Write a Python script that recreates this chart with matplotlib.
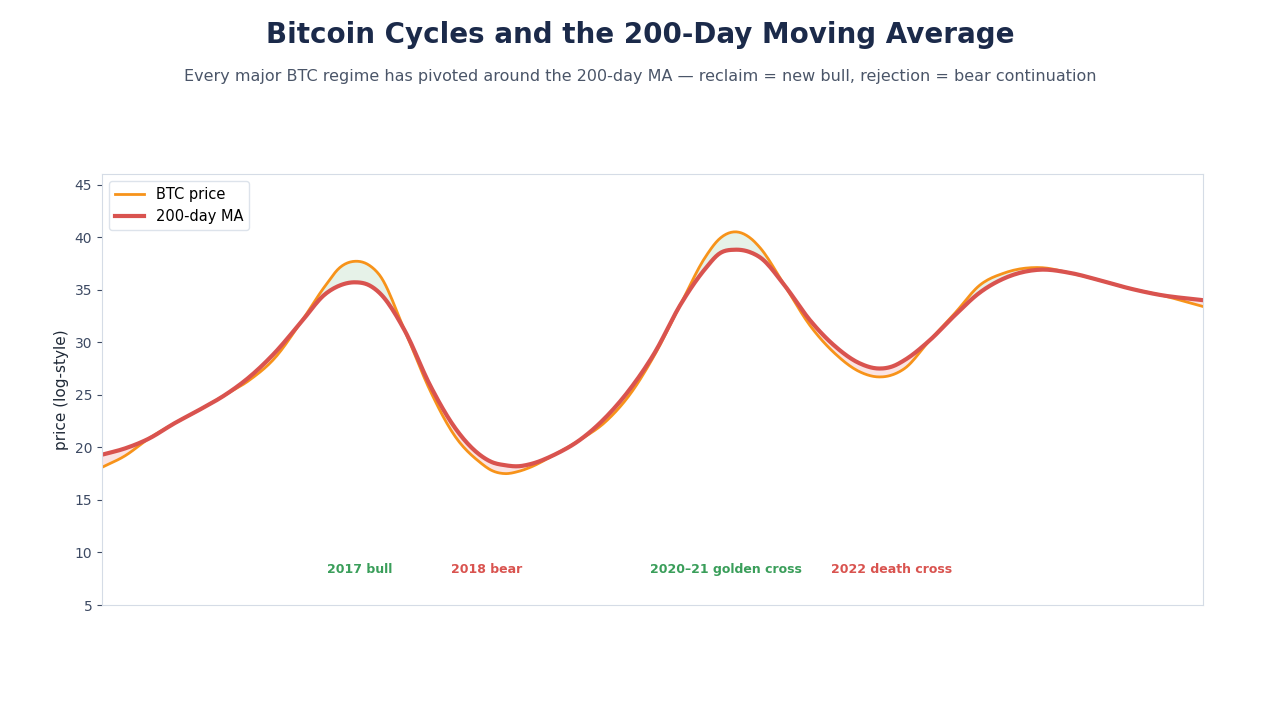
import numpy as np
import matplotlib
matplotlib.use("Agg")
import matplotlib.pyplot as plt

# time axis (arbitrary months, 0..100)
t = [0, 2.1, 4.2, 6.6, 8.9, 11.2, 13.4, 15.7, 18.0, 20.3, 21.6, 23.0, 24.3, 25.2,
     27.5, 29.8, 32.1, 34.3, 35.4, 36.6, 37.8, 38.9, 41.1, 43.4, 45.7, 48.0, 50.2,
     52.5, 54.8, 56.1, 57.5, 58.9, 59.8, 62.0, 64.3, 66.6, 68.8, 70.5, 71.8, 72.9,
     75.2, 77.5, 79.7, 82.0, 85.2, 87.9, 90.6, 93.4, 96.1, 100]

price = [18.1, 19.2, 20.8, 22.3, 23.6, 25.0, 26.4, 28.5, 31.8, 35.4, 37.1, 37.7, 37.3, 36.4,
         31.1, 25.4, 21.0, 18.6, 17.8, 17.5, 17.7, 18.1, 19.3, 20.7, 22.4, 25.1, 28.8,
         33.5, 38.1, 39.85, 40.5, 39.9, 38.95, 35.4, 31.6, 28.9, 27.2, 26.7, 26.9, 27.5,
         30.2, 32.8, 35.4, 36.6, 37.1, 36.6, 35.9, 35.1, 34.5, 33.4]

ma200 = [19.3, 19.9, 20.8, 22.3, 23.6, 25.0, 26.7, 29.0, 31.8, 34.6, 35.4, 35.7, 35.4, 34.7,
         31.1, 25.9, 21.8, 19.3, 18.6, 18.3, 18.2, 18.4, 19.3, 20.7, 22.8, 25.6, 29.0,
         33.5, 37.0, 38.45, 38.8, 38.55, 38.05, 35.4, 32.1, 29.6, 28.0, 27.5, 27.7, 28.3,
         30.2, 32.6, 34.7, 36.1, 36.9, 36.6, 35.9, 35.1, 34.5, 34.0]

events = ["2017 bull", "2018 bear", "2020\u201321 golden cross", "2022 death cross"]
event_t = [23.4, 34.9, 56.7, 71.7]
event_col = ["#3a9e5a", "#d9534f", "#3a9e5a", "#d9534f"]


def smooth(x, y, n=12):
    # cubic Hermite curve through the points, only for drawing
    x = np.asarray(x, float)
    y = np.asarray(y, float)
    m = np.gradient(y, x)
    xs, ys = [], []
    for i in range(len(x) - 1):
        h = x[i + 1] - x[i]
        s = np.linspace(0, 1, n, endpoint=False)
        h00 = 2 * s**3 - 3 * s**2 + 1
        h10 = s**3 - 2 * s**2 + s
        h01 = -2 * s**3 + 3 * s**2
        h11 = s**3 - s**2
        xs.append(x[i] + s * h)
        ys.append(h00 * y[i] + h10 * h * m[i] + h01 * y[i + 1] + h11 * h * m[i + 1])
    xs.append([x[-1]])
    ys.append([y[-1]])
    return np.concatenate(xs), np.concatenate(ys)


tx, p_s = smooth(t, price)
_, m_s = smooth(t, ma200)

fig = plt.figure(figsize=(12.8, 7.2), dpi=100)
ax = fig.add_axes([0.0797, 0.1597, 0.8601, 0.5986])

ax.fill_between(tx, p_s, m_s, where=p_s >= m_s, interpolate=True,
                color="#e6f2e8", linewidth=0)
ax.fill_between(tx, p_s, m_s, where=p_s < m_s, interpolate=True,
                color="#fbe4e4", linewidth=0)
ax.plot(tx, p_s, color="#f7931a", lw=2, label="BTC price")
ax.plot(tx, m_s, color="#d9534f", lw=3, label="200-day MA")

for name, x, c in zip(events, event_t, event_col):
    ax.text(x, 8.4, name, color=c, fontsize=9, fontweight="bold", ha="center", va="center")

ax.set_xlim(0, 100)
ax.set_ylim(5, 46)
ax.set_xticks([])
ax.set_yticks(range(5, 50, 5))
ax.tick_params(axis="y", colors="#3d4a63", labelsize=10)
for s in ax.spines.values():
    s.set_color("#d5dce6")
ax.set_ylabel("price (log-style)", fontsize=11, color="#1f2937")

leg = ax.legend(loc="upper left", fontsize=10.5, frameon=True)
leg.get_frame().set_edgecolor("#d5dce6")

fig.text(0.5, 0.952, "Bitcoin Cycles and the 200-Day Moving Average", ha="center", va="center",
         fontsize=20, fontweight="bold", color="#1b2a4a")
fig.text(0.5, 0.894, "Every major BTC regime has pivoted around the 200-day MA \u2014 reclaim = new bull, "
         "rejection = bear continuation", ha="center", va="center", fontsize=11.5, color="#4a5568")

fig.savefig("out.png", dpi=100)
